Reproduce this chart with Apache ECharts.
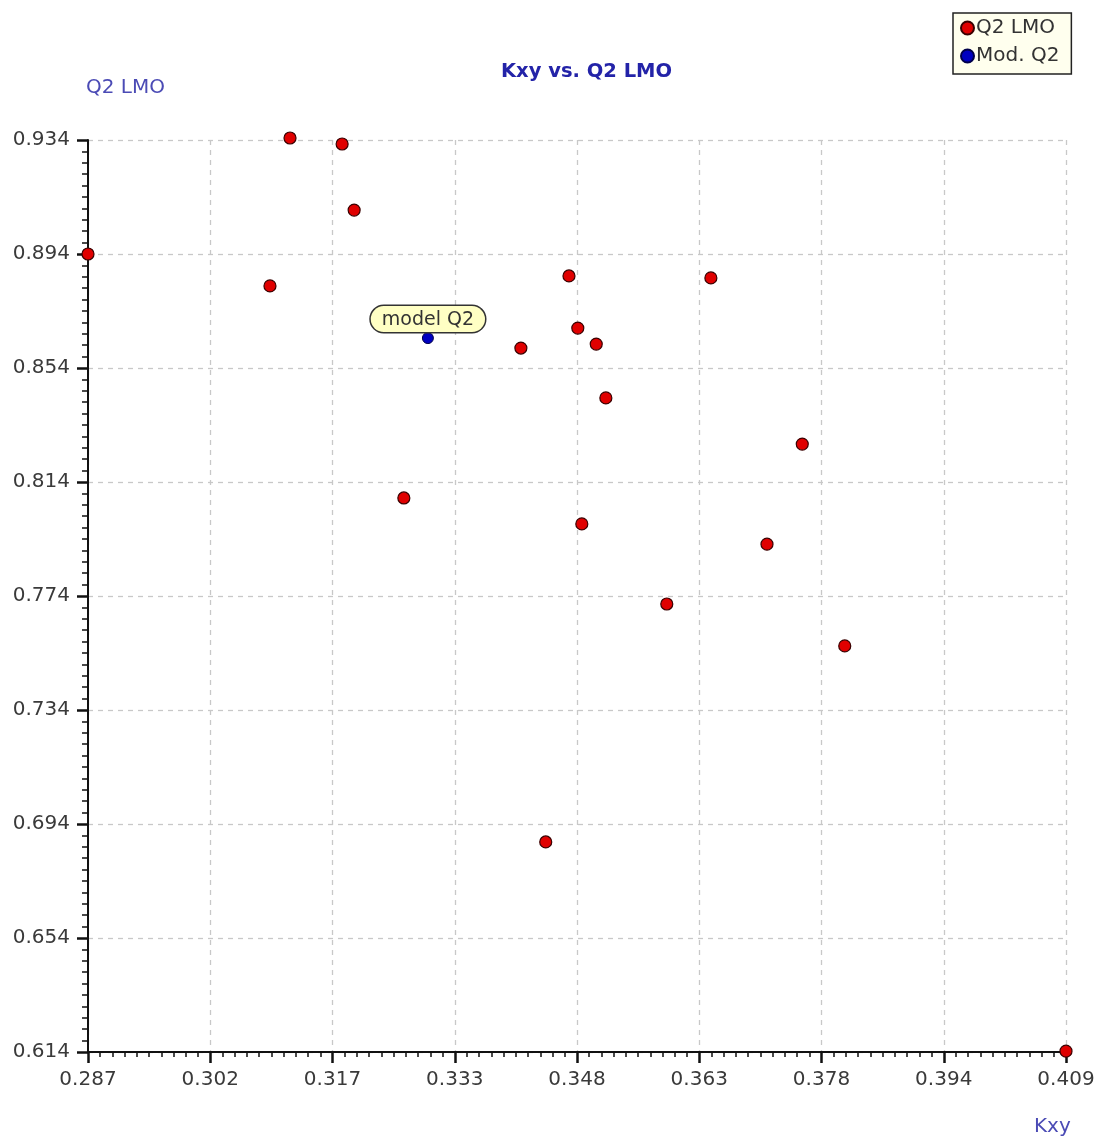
<!DOCTYPE html>
<html>
<head>
<meta charset="utf-8">
<script src="https://cdn.jsdelivr.net/npm/echarts@6/dist/echarts.min.js"></script>
<style>
html,body{margin:0;padding:0;background:#fff;}
#chart{width:1095px;height:1140px;}
</style>
</head>
<body>
<div id="chart"></div>
<script>
// Data
const kxyValues = [0.3122, 0.3187, 0.3202, 0.2870, 0.3097, 0.3470, 0.3647, 0.3481, 0.3410, 0.3504, 0.3516, 0.3761, 0.3264, 0.3486, 0.3717, 0.3592, 0.3814, 0.3441, 0.4090];
const q2lmoValues = [0.9347, 0.9326, 0.9094, 0.8940, 0.8828, 0.8863, 0.8856, 0.8680, 0.8610, 0.8624, 0.8435, 0.8273, 0.8084, 0.7993, 0.7922, 0.7712, 0.7565, 0.6877, 0.6143];
const modelKxy = [0.3294];
const modelQ2 = [0.8645];
const xTickLabels = ['0.287', '0.302', '0.317', '0.333', '0.348', '0.363', '0.378', '0.394', '0.409'];
const yTickLabels = ['0.614', '0.654', '0.694', '0.734', '0.774', '0.814', '0.854', '0.894', '0.934'];
const seriesNames = ['Q2 LMO', 'Mod. Q2'];
const pointLabel = 'model Q2';

const xMin = 0.287, xMax = 0.409, yMin = 0.614, yMax = 0.934;
const xStep = (xMax - xMin) / (xTickLabels.length - 1);
const yStep = (yMax - yMin) / (yTickLabels.length - 1);
const xMajor = xTickLabels.map((_, i) => xMin + i * xStep);
const yMajor = yTickLabels.map((_, i) => yMin + i * yStep);
const xMinor = [], yMinor = [];
for (let i = 0; i < xMajor.length - 1; i++) for (let j = 1; j < 10; j++) xMinor.push(xMin + (i + j / 10) * xStep);
for (let i = 0; i < yMajor.length - 1; i++) for (let j = 1; j < 10; j++) yMinor.push(yMin + (i + j / 10) * yStep);

const FONT = 'DejaVu Sans';
const labelStyle = { color: '#3a3a3a', fontSize: 20, fontFamily: FONT };
const nameColor = '#4b4bb5';

const chart = echarts.init(document.getElementById('chart'), null, { renderer: 'canvas' });
chart.setOption({
  animation: false,
  backgroundColor: '#ffffff',
  title: {
    text: 'Kxy vs. Q2 LMO',
    left: 496, top: 57,
    textStyle: { color: '#2323a8', fontSize: 19.5, fontWeight: 'bold', fontFamily: FONT }
  },
  legend: {
    orient: 'vertical',
    left: 953, top: 13,
    backgroundColor: '#ffffee',
    borderColor: '#222',
    borderWidth: 1.5,
    padding: [5, 12, 8, 7],
    itemGap: 8,
    itemWidth: 13, itemHeight: 13,
    icon: 'circle',
    textStyle: { color: '#333', fontSize: 20, fontFamily: FONT, padding: [0, 0, 0, -3] },
    data: seriesNames
  },
  grid: { left: 88, right: 29, top: 140, bottom: 88, containLabel: false, outerBoundsMode: 'none' },
  xAxis: [{
    type: 'value', min: xMin, max: xMax,
    name: 'Kxy', nameLocation: 'end', nameGap: -32,
    nameTextStyle: { color: nameColor, fontSize: 20, fontFamily: FONT, align: 'left', verticalAlign: 'top', padding: [65, 0, 0, 0] },
    axisLine: { show: true, onZero: false, lineStyle: { color: '#111', width: 2 } },
    axisTick: { show: true, inside: false, length: 11, lineStyle: { color: '#111', width: 2.5 }, customValues: xMajor },
    axisLabel: { show: true, margin: 18, ...labelStyle, customValues: xMajor,
      formatter: v => { const i = xMajor.findIndex(t => Math.abs(t - v) < 1e-6); return i >= 0 ? xTickLabels[i] : ''; } },
    splitLine: { show: true, lineStyle: { color: '#c8c8c8', type: [5, 5], width: 1.3 } }
  }, {
    type: 'value', min: xMin, max: xMax, position: 'bottom',
    axisLine: { show: false },
    axisTick: { show: true, inside: false, length: 5, lineStyle: { color: '#111', width: 1.5 }, customValues: xMinor },
    axisLabel: { show: false },
    splitLine: { show: false }
  }],
  yAxis: [{
    type: 'value', min: yMin, max: yMax,
    name: 'Q2 LMO', nameLocation: 'end', nameGap: 42,
    nameTextStyle: { color: nameColor, fontSize: 20, fontFamily: FONT, align: 'left', padding: [0, 0, 0, -2] },
    axisLine: { show: true, onZero: false, lineStyle: { color: '#111', width: 2 } },
    axisTick: { show: true, inside: false, length: 11, lineStyle: { color: '#111', width: 2.5 }, customValues: yMajor },
    axisLabel: { show: true, margin: 18, ...labelStyle, customValues: yMajor,
      formatter: v => { const i = yMajor.findIndex(t => Math.abs(t - v) < 1e-6); return i >= 0 ? yTickLabels[i] : ''; } },
    splitLine: { show: true, lineStyle: { color: '#c8c8c8', type: [5, 5], width: 1.3 } }
  }, {
    type: 'value', min: yMin, max: yMax, position: 'left',
    axisLine: { show: false },
    axisTick: { show: true, inside: false, length: 6, lineStyle: { color: '#111', width: 1.5 }, customValues: yMinor },
    axisLabel: { show: false },
    splitLine: { show: false }
  }],
  series: [{
    name: seriesNames[0],
    type: 'scatter',
    xAxisIndex: 0, yAxisIndex: 0,
    clip: false,
    symbol: 'circle', symbolSize: 12,
    itemStyle: { color: '#e00000', borderColor: '#3a0000', borderWidth: 1.2, opacity: 1 },
    data: kxyValues.map((x, i) => [x, q2lmoValues[i]])
  }, {
    name: seriesNames[1],
    type: 'scatter',
    xAxisIndex: 0, yAxisIndex: 0,
    clip: false,
    symbol: 'circle', symbolSize: 11,
    itemStyle: { color: '#0000c0', borderColor: '#00004a', borderWidth: 1, opacity: 1 },
    label: {
      show: true, position: 'top', distance: 0,
      formatter: pointLabel,
      color: '#333', fontSize: 19, fontFamily: FONT,
      backgroundColor: '#ffffc4', borderColor: '#333', borderWidth: 1.5, borderRadius: 14,
      padding: [4, 11, 3, 11]
    },
    data: modelKxy.map((x, i) => [x, modelQ2[i]])
  }]
});
</script>
</body>
</html>
